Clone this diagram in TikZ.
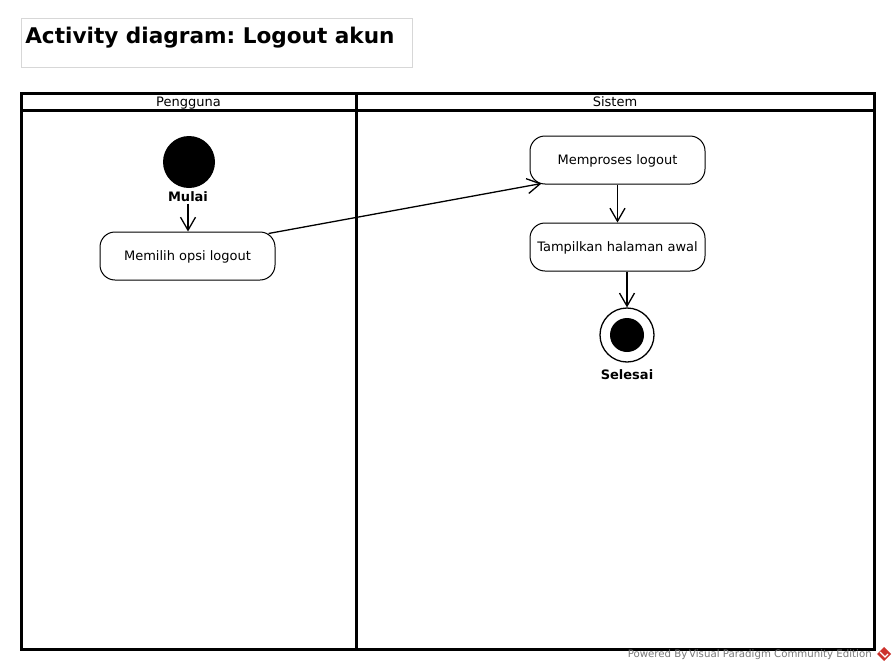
\documentclass[tikz,border=0pt]{standalone}
\usepackage{fontspec}
\setmainfont{DejaVu Sans}
\usetikzlibrary{arrows.meta,positioning}
\frenchspacing
\newcommand{\px}{0.75pt}
\newcommand{\lebarAksi}{175}
\newcommand{\tinggiAksi}{48}
\newcommand{\batasLajur}{356}
\newcommand{\kepalaLajur}{110}
\definecolor{abuJudul}{RGB}{215,215,215}
\definecolor{abuTeks}{RGB}{120,120,120}
\definecolor{merahVP}{RGB}{205,50,45}
\tikzset{
	aksi/.style={draw,rounded corners=15*\px,line width=1*\px,minimum width=\lebarAksi*\px,minimum height=\tinggiAksi*\px,inner sep=0pt,text depth=0pt,font=\fontsize{9.75}{12}\selectfont},
	label bold/.style={font=\fontsize{9.75}{12}\selectfont\bfseries,inner sep=1pt},
	panah/.style={line width=1.3*\px,-{Straight Barb[length=9.75pt,width=11.25pt,line width=1.3*\px]}}
}
\begin{document}
\begin{tikzpicture}[x=0.75pt,y=-0.75pt]
	\useasboundingbox (0,0) rectangle (896,671);
	% judul
	\draw[abuJudul,line width=1*\px] (21,18) rectangle (412,67);
	\node (judul) at (25,43)[anchor=base west,inner sep=0pt,font=\fontsize{16.2}{19}\selectfont\bfseries]{Activity diagram: Logout akun};
	% lajur (swimlane)
	\draw[line width=3*\px] (21,93) rectangle (874,649)
	(21,\kepalaLajur)--(874,\kepalaLajur)
	(\batasLajur,93)--(\batasLajur,649);
	\node (lajurPengguna) at (188.5,106.5)[anchor=base,font=\fontsize{9.75}{12}\selectfont,inner sep=0pt]{Pengguna};
	\node (lajurSistem) at (615,106.5)[anchor=base,font=\fontsize{9.75}{12}\selectfont,inner sep=0pt]{Sistem};
	% awal dan akhir
	\node (mulai) at (189,162)[circle,fill=black,minimum size=52*\px,inner sep=0pt]{};
	\node (mulaiLbl) at (188,197)[label bold]{Mulai};
	\node (akhir) at (627,335)[circle,draw,line width=1.3*\px,minimum size=54*\px,inner sep=0pt]{};
	\node (akhirIsi) at (627,335)[circle,fill=black,minimum size=34*\px,inner sep=0pt]{};
	\node (akhirLbl) at (627,375)[label bold]{Selesai};
	% aksi
	\node (a1) at (187.5,256)[aksi]{Memilih opsi logout};
	\node (a2) at (617.5,160)[aksi]{Memproses logout};
	\node (a3) at (617.5,247)[aksi]{Tampilkan halaman awal};
	% alur
	\draw[panah] (mulaiLbl.south)--(mulaiLbl.south |- a1.north);
	\draw[panah] ([shift={(-7,2)}]a1.north east)--([shift={(12,-1)}]a2.south west);
	\draw[panah] (a2.south)--(a3.north);
	\draw[panah] (akhir.north |- a3.south)--(akhir.north);
	% watermark
	\node (vp) at (872,655)[anchor=east,inner sep=0pt,abuTeks,font=\fontsize{7.65}{9}\selectfont]{Powered By\,Visual Paradigm Community Edition};
	\fill[merahVP] (884,647)--(891,654)--(884,661)--(877,654)--cycle;
	\draw[white,line width=1.2*\px] (880,652)--(885,657)--(888,654);
\end{tikzpicture}
\end{document}
